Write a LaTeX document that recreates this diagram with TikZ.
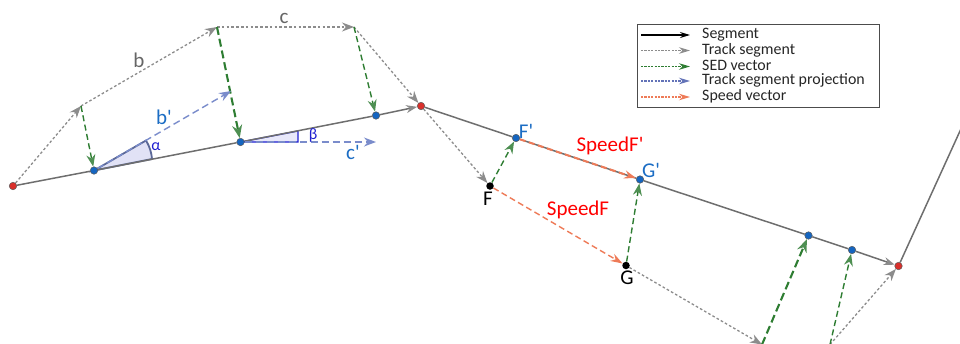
\documentclass[tikz,border=0pt]{standalone}
\usepackage{fontspec}
\setmainfont{Carlito}
\usetikzlibrary{arrows.meta,backgrounds}
\definecolor{segc}{HTML}{6E6E6E}
\definecolor{trackc}{HTML}{8C8C8C}
\definecolor{sedc}{HTML}{2E7D32}
\definecolor{sedh}{HTML}{4E8F52}
\definecolor{projc}{HTML}{7A8CCB}
\definecolor{legproj}{HTML}{6373B8}
\definecolor{speedc}{HTML}{EE7B58}
\definecolor{bluept}{HTML}{1565C0}
\definecolor{redpt}{HTML}{D9302C}
\definecolor{lblblue}{HTML}{1C6DC4}
\definecolor{anglec}{HTML}{1F1FD0}
\tikzset{
  x=1pt,y=-1pt,
  ptb/.style={circle,draw=black!65,line width=0.5pt,fill=bluept,inner sep=0pt,minimum size=7.5pt},
  ptr/.style={circle,draw=black!65,line width=0.5pt,fill=redpt,inner sep=0pt,minimum size=7.5pt},
  ptk/.style={circle,fill=black,inner sep=0pt,minimum size=7.5pt},
  seg/.style={draw=segc,line width=1.5pt,-{Stealth[length=11pt,width=8pt,color=trackc,fill=trackc]}},
  segn/.style={draw=segc,line width=1.5pt},
  track/.style={draw=trackc,line width=1.3pt,dash pattern=on 2.6pt off 2.2pt,-{Stealth[length=12pt,width=9pt,color=trackc,fill=trackc]}},
  sed/.style={draw=sedc,line width=1.4pt,dash pattern=on 6pt off 3.5pt,-{Stealth[length=12pt,width=9pt,color=sedh,fill=sedh]}},
  sedt/.style={draw=sedc,line width=2.1pt,dash pattern=on 8pt off 4pt,-{Stealth[length=13pt,width=10pt,color=sedh,fill=sedh]}},
  proj/.style={draw=projc,line width=1.4pt,dash pattern=on 7pt off 4pt,-{Stealth[length=12pt,width=9pt,color=projc,fill=projc]}},
  speed/.style={draw=speedc,line width=1.4pt,dash pattern=on 6pt off 3.5pt,-{Stealth[length=12pt,width=8pt,color=speedc,fill=speedc]}},
  lab/.style={font=\fontsize{21}{21}\selectfont,inner sep=0pt},
  blab/.style={lab,text=lblblue},
  rlab/.style={lab,text=red},
  glab/.style={lab,text=black!60},
  klab/.style={lab,text=black},
  alab/.style={font=\fontsize{16}{16}\selectfont,inner sep=0pt,text=anglec},
  leg/.style={font=\fontsize{15.9}{15.9}\selectfont,inner sep=0pt,anchor=west,text=black!85,text height=9.5pt,text depth=2.5pt},
  legend line/.style={line width=1.1pt,dash pattern=on 2.2pt off 1.2pt},
}
\begin{document}
\begin{tikzpicture}
\useasboundingbox (0,0) rectangle (960,343);
\clip (0,0) rectangle (960,343);
% points
\node[ptr] (A) at (13,186) {};
\node[ptb] (P1) at (94,170.5) {};
\node[ptb] (P2) at (240.5,142) {};
\node[ptb] (P3) at (376,115.5) {};
\node[ptr] (B) at (421,106) {};
\node[ptb] (Fp) at (516,138) {};
\node[ptb] (Gp) at (640,179.5) {};
\node[ptb] (P4) at (808.5,235.5) {};
\node[ptb] (P5) at (852,250) {};
\node[ptr] (C) at (898.5,266) {};
\node[ptk] (F) at (490,186) {};
\node[ptk] (G) at (626,265.5) {};
\coordinate (T1) at (81,106);
\coordinate (T2) at (217,27);
\coordinate (T3) at (354,27);
\coordinate (T4) at (762,344.5);
\coordinate (T5) at (830,344.5);
\coordinate (E) at (965,120);
\coordinate (Bp) at (231,91);
\coordinate (Cp) at (376,142);
\coordinate (Aa) at (146,140.5);
\coordinate (Ab) at (152,159);
\coordinate (Ba) at (298,142);
\coordinate (Bb) at (298,131);
\begin{scope}[on background layer]
  % angles
  \fill[anglec!40!projc,fill opacity=0.18] (P1.center) -- (Aa) to[bend left=12] (Ab) -- cycle;
  \draw[projc!75!black,line width=1.8pt] (P1.center) -- (Aa) to[bend left=12] (Ab) -- cycle;
  \fill[anglec,fill opacity=0.1] (P2.center) -- (Ba) -- (Bb) -- cycle;
  \draw[anglec,line width=1.3pt] (P2.center) -- (Ba) -- (Bb) -- cycle;
  % segments
  \draw[segn] (A) -- (P1);
  \draw[segn] (P1) -- (P2);
  \draw[segn] (P2) -- (P3);
  \draw[seg] (P3) -- (B);
  \draw[segn] (B) -- (Fp);
  \draw[segn] (Fp) -- (Gp);
  \draw[segn] (Gp) -- (P4);
  \draw[segn] (P4) -- (P5);
  \draw[seg] (P5) -- (C);
  \draw[segn] (C) -- (E);
  % track
  \draw[track] (A) -- (T1);
  \draw[track] (T1) -- (T2);
  \draw[track] (T2) -- (T3);
  \draw[track] (T3) -- (B);
  \draw[track] (B) -- (F);
  \draw[track] (G) -- (T4);
  \draw[track] (T5) -- (C);
  % SED
  \draw[sed] (T1) -- (P1);
  \draw[sedt] (T2) -- (P2);
  \draw[sed] (T3) -- (P3);
  \draw[sed] (F) -- (Fp);
  \draw[sed] (G) -- (Gp);
  \draw[sedt] (T4) -- (P4);
  \draw[sed] (T5) -- (P5);
  % projections
  \draw[proj] (P1) -- (Bp);
  \draw[proj] (P2) -- (Cp);
  % speed
  \draw[speed] (F) -- (G);
  \draw[speed,line width=2pt] (Fp) -- (Gp);
\end{scope}
% labels
\node[glab] (lb) at (139,60) {b};
\node[glab] (lc) at (284,18) {c};
\node[blab] (lbp) at (164,117) {b\textquotesingle};
\node[blab] (lcp) at (353,152) {c\textquotesingle};
\node[alab] (la) at (156,147) {α};
\node[alab] (lbe) at (313,135) {β};
\node[blab] (lFp) at (526,131) {F\textquotesingle};
\node[blab] (lGp) at (651,170) {G\textquotesingle};
\node[klab] (lF) at (488,199) {F};
\node[klab] (lG) at (627,278) {G};
\node[rlab] (s1) at (610,146) {SpeedF\textquotesingle};
\node[rlab] (s2) at (578,210) {SpeedF};
% legend
\node[draw=black!70,line width=0.9pt,fill=white,inner sep=0pt,minimum width=242pt,minimum height=83.5pt] (box) at (758,66) {};
\foreach \n/\y/\c/\t in {1/35/black/Segment,2/50.5/trackc/Track segment,3/66.5/sedc/SED vector,4/81/legproj/Track segment projection,5/97/speedc/Speed vector}{
  \coordinate (ls\n) at (641,\y);
  \coordinate (le\n) at (690,\y);
  \node[leg] (t\n) at (702,\y) {\t};
  \ifnum\n=1
    \draw[\c,line width=1.4pt,-{Stealth[length=10pt,width=6pt]}] (ls\n) -- (le\n);
  \else
    \draw[\c,legend line,-{Stealth[length=11pt,width=6.5pt]}] (ls\n) -- (le\n);
  \fi
}
\end{tikzpicture}
\end{document}
